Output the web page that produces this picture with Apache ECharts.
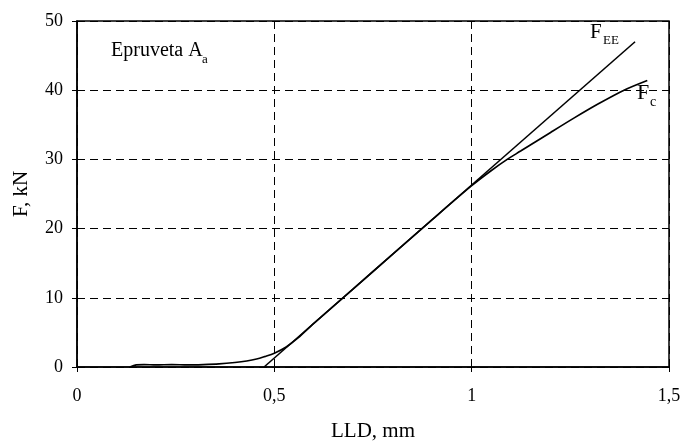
<!DOCTYPE html>
<html>
<head>
<meta charset="utf-8">
<script src="https://cdn.jsdelivr.net/npm/echarts@6/dist/echarts.min.js"></script>
<style>
  html, body { margin: 0; padding: 0; background: #fff; }
  #chart { width: 681px; height: 441px; }
</style>
</head>
<body>
<div id="chart"></div>
<script>
// Load vs. load-line displacement for specimen A_a
const xTicks = [0, 0.5, 1, 1.5];
const yTicks = [0, 10, 20, 30, 40, 50];

// Elastic (linear) fit F_EE: [LLD mm, F kN]
const fEE = [[0.474, 0], [1.414, 47.0]];

// Measured curve F_c: [LLD mm, F kN]
const fC = [
  [0.134, 0], [0.15, 0.3], [0.17, 0.35], [0.2, 0.3], [0.24, 0.35], [0.28, 0.3],
  [0.32, 0.35], [0.36, 0.45], [0.40, 0.65], [0.43, 0.87], [0.455, 1.15],
  [0.475, 1.5], [0.5, 2.0], [0.53, 2.9], [0.56, 4.2], [0.6, 6.3], [0.7, 11.3],
  [0.8, 16.3], [0.9, 21.3], [1.0, 26.2], [1.05, 28.4], [1.09, 30.0],
  [1.124, 31.2], [1.2, 33.9], [1.26, 36.0], [1.32, 38.0], [1.386, 40.0],
  [1.445, 41.4]
];

const serif = '"Liberation Serif", "Times New Roman", serif';
const fmt = v => String(v).replace('.', ',');

const chart = echarts.init(document.getElementById('chart'));
chart.setOption({
  animation: false,
  backgroundColor: '#fff',
  textStyle: { fontFamily: serif, color: '#000' },
  grid: {
    left: 77, right: 12, top: 21, bottom: 74,
    show: true, borderColor: '#000', borderWidth: 1.5,
    outerBoundsMode: 'none'
  },
  xAxis: {
    type: 'value',
    min: xTicks[0], max: xTicks[xTicks.length - 1], interval: 0.5,
    name: 'LLD, mm', nameLocation: 'middle', nameGap: 54,
    nameTextStyle: { fontFamily: serif, fontSize: 21, color: '#000' },
    axisLine: { show: true, onZero: false, lineStyle: { color: '#000', width: 1.5 } },
    axisTick: { show: true, length: 5, lineStyle: { color: '#000' } },
    axisLabel: { formatter: fmt, margin: 20, fontFamily: serif, fontSize: 18, color: '#000' },
    splitLine: { show: true, lineStyle: { color: '#000', width: 1, type: [8, 5] } }
  },
  yAxis: {
    type: 'value',
    min: yTicks[0], max: yTicks[yTicks.length - 1], interval: 10,
    name: 'F, kN', nameLocation: 'middle', nameGap: 45, nameRotate: 90,
    nameTextStyle: { fontFamily: serif, fontSize: 21, color: '#000' },
    axisLine: { show: true, lineStyle: { color: '#000', width: 1.5 } },
    axisTick: { show: true, length: 5, lineStyle: { color: '#000' } },
    axisLabel: { margin: 14, fontFamily: serif, fontSize: 18, color: '#000' },
    splitLine: { show: true, lineStyle: { color: '#000', width: 1, type: [8, 5] } }
  },
  series: [
    {
      name: 'F_EE', type: 'line', data: fEE, symbol: 'none',
      lineStyle: { color: '#000', width: 1.6 }, z: 3
    },
    {
      name: 'F_c', type: 'line', data: fC, symbol: 'none', smooth: 0.3,
      lineStyle: { color: '#000', width: 1.7 }, z: 4
    }
  ],
  graphic: [
    { type: 'text', left: 111, top: 41,
      style: { text: 'Epruveta A', font: '20px ' + serif, fill: '#000' } },
    { type: 'text', left: 202, top: 53,
      style: { text: 'a', font: '13px ' + serif, fill: '#000' } },
    { type: 'text', left: 590, top: 22,
      style: { text: 'F', font: '21px ' + serif, fill: '#000' } },
    { type: 'text', left: 603, top: 34,
      style: { text: 'EE', font: '13px ' + serif, fill: '#000' } },
    { type: 'text', left: 637, top: 82,
      style: { text: 'F', font: '22px ' + serif, fill: '#000' } },
    { type: 'text', left: 650, top: 95,
      style: { text: 'c', font: '14px ' + serif, fill: '#000' } }
  ]
});
</script>
</body>
</html>
